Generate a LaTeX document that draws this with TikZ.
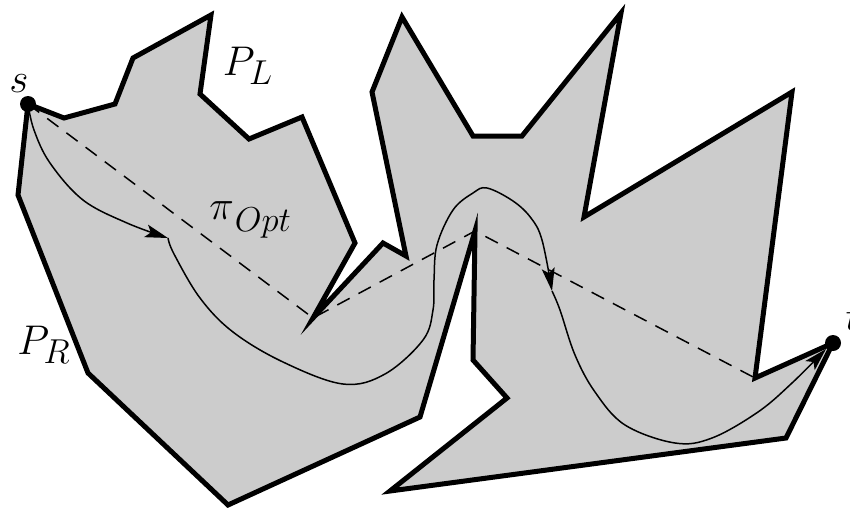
\documentclass[tikz,border=0pt]{standalone}
\usetikzlibrary{arrows.meta}
\DeclareMathSizes{20.74}{20.74}{17.28}{14.4}
\begin{document}
\begin{tikzpicture}[x=0.5pt,y=-0.5pt,
  region/.style={fill=black!20, draw=black, line width=2.5pt, line join=miter, miter limit=20},
  route/.style={line width=0.75pt},
  shortest/.style={dash pattern=on 7pt off 5pt, line width=0.75pt},
  tipA/.style={-{Stealth[length=11.5pt,width=6.5pt,inset=2.5pt]}},
  lbl/.style={font=\huge, inner sep=0pt},
  dot/.style={circle, fill=black, inner sep=0pt, minimum size=8pt}]
\useasboundingbox (0,0) rectangle (850,509);
% polygon vertices
\coordinate (s) at (28,104);
\coordinate (v2) at (64,118);
\coordinate (v3) at (115,104);
\coordinate (v4) at (133,58);
\coordinate (v5) at (211,15);
\coordinate (v6) at (200,94);
\coordinate (v7) at (249,139);
\coordinate (v8) at (302,117);
\coordinate (v9) at (355,243);
\coordinate (r1) at (313,318);
\coordinate (v11) at (383,243);
\coordinate (v12) at (406,256);
\coordinate (v13) at (372,92);
\coordinate (v14) at (402,17);
\coordinate (v15) at (473,136);
\coordinate (v16) at (522,136);
\coordinate (v17) at (621,13);
\coordinate (v18) at (584,217);
\coordinate (v19) at (792,92);
\coordinate (r3) at (755,378);
\coordinate (t) at (833,343);
\coordinate (v22) at (786,438);
\coordinate (v23) at (390,491);
\coordinate (v24) at (507,398);
\coordinate (v25) at (473,360);
\coordinate (r2) at (475,231);
\coordinate (v27) at (420,417);
\coordinate (v28) at (228,505);
\coordinate (v29) at (88,373);
\coordinate (v30) at (18,195);
\draw[region] (s) -- (v2) -- (v3) -- (v4) -- (v5) -- (v6) -- (v7) -- (v8) -- (v9)
  -- (r1) -- (v11) -- (v12) -- (v13) -- (v14) -- (v15) -- (v16) -- (v17) -- (v18)
  -- (v19) -- (r3) -- (t) -- (v22) -- (v23) -- (v24) -- (v25) -- (r2) -- (v27)
  -- (v28) -- (v29) -- (v30) -- cycle;
% shortest path
\draw[shortest] (s) -- (r1) -- (r2) -- (r3) -- (t);
% the other path with arrows
\coordinate (a1) at (168,238);
\coordinate (a2) at (552,291);
\coordinate (a3) at (826,349);
\draw[route, tipA] plot[smooth, tension=0.6] coordinates {(s) (34,130) (50,163) (83,200) (127,223) (a1)};
\draw[route, tipA] plot[smooth, tension=0.6] coordinates {(a1) (174,254) (200,298) (233,332) (283,362) (343,384) (385,374) (423,340) (433,310) (434,280) (437,245) (453,210) (473,193) (487,188) (513,201) (531,218) (542,240) (a2)};
\draw[route, tipA] plot[smooth, tension=0.6] coordinates {(a2) (560,310) (575,355) (595,392) (625,425) (675,443) (712,438) (758,412) (792,383) (a3)};
% dots
\node[dot] (sd) at (s) {};
\node[dot] (td) at (t) {};
% labels
\node[lbl] (ls) at (19,84) {$s$};
\node[lbl] (lt) at (853,318) {$t$};
\node[lbl] (lpl) at (248,66) {$P_L$};
\node[lbl] (lpr) at (44,345) {$P_R$};
\node[lbl, anchor=base west] (lpi) at (209,219) {$\pi$\hspace{0.5pt}\raisebox{-6pt}{\fontsize{17.28}{20}\selectfont$Opt$}};
\end{tikzpicture}
\end{document}
